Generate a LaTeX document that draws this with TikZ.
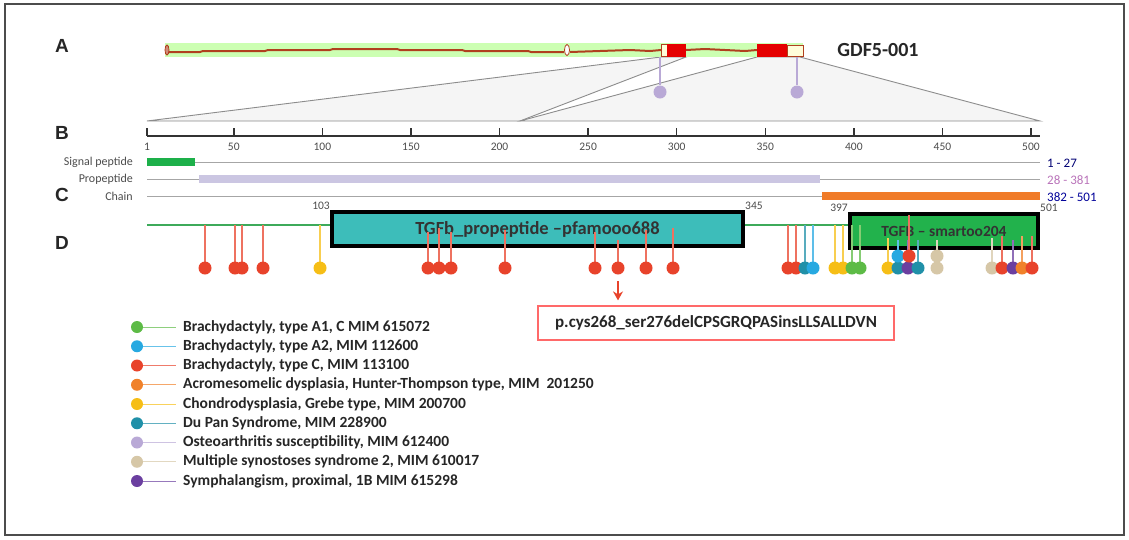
\documentclass[tikz,border=0pt]{standalone}
\usepackage{fontspec}
\setmainfont{Carlito}
\newfontfamily\panelfont{Liberation Sans}
\usetikzlibrary{arrows.meta,positioning}

\definecolor{brachyAone}{HTML}{5DBB46}
\definecolor{brachyAtwo}{HTML}{27A9E1}
\definecolor{brachyC}{HTML}{E8432B}
\definecolor{acromeso}{HTML}{F0812A}
\definecolor{chondro}{HTML}{F6BE16}
\definecolor{dupan}{HTML}{2090A8}
\definecolor{osteo}{HTML}{B9A9D6}
\definecolor{synost}{HTML}{D6C7A7}
\definecolor{symph}{HTML}{6B3FA0}
\definecolor{backbone}{HTML}{3DAA5A}
\definecolor{sigcol}{HTML}{1DB04A}
\definecolor{procol}{HTML}{CBC6E2}
\definecolor{chaincol}{HTML}{F07B28}
\definecolor{pfamcol}{HTML}{3DBDBA}
\definecolor{smartcol}{HTML}{22B24C}
\definecolor{intron}{HTML}{B0401E}

\begin{document}
\begin{tikzpicture}[x=1pt, y=-1pt,
  panel/.style={font=\panelfont\bfseries\fontsize{19}{19}\selectfont, text=black!85},
  rowlabel/.style={anchor=east, inner sep=0pt, font=\fontsize{12}{12}\selectfont, text=black!70},
  spanlabel/.style={anchor=west, inner sep=0pt, font=\fontsize{13}{13}\selectfont},
  ticklabel/.style={inner sep=0pt, font=\fontsize{11.5}{11.5}\selectfont, text=black!70},
  poslabel/.style={inner sep=0pt, font=\fontsize{11.5}{11.5}\selectfont, text=black!70},
  track/.style={black!35, line width=1pt},
  dot/.style={circle, inner sep=0pt, minimum size=13pt},
  stem/.style={line width=1.2pt},
  domainbox/.style={draw=black, line width=4pt, inner sep=0pt, text=black!80},
  legendtext/.style={anchor=west, inner xsep=7pt, inner ysep=0pt, font=\bfseries\fontsize{15.5}{16}\selectfont, text=black!85},
  proj/.style={fill=black!4, draw=black!45, line width=0.9pt},
  utr/.style={fill=yellow!15, draw=intron, line width=0.8pt}
]
\useasboundingbox (0,0) rectangle (1129,539);
\draw[black!70, line width=1.5pt] (5,4) rectangle (1124,535);

% panel A: transcript
\filldraw[proj] (661,57) -- (686,57) -- (520,121) -- (147,121) -- cycle;
\filldraw[proj] (757,57) -- (800,57) -- (1040,121) -- (520,121) -- cycle;
\fill[green!55!lime!30] (165,43) rectangle (803,57);
\draw[intron, line width=2pt] (167,52) -- (200,52) -- (203,51) -- (265,51) -- (268,50) -- (330,50) -- (333,49) -- (397,49)
  -- (400,50) -- (462,50) -- (465,51) -- (528,51) -- (531,52) -- (564,52);
\draw[intron, line width=2pt] (570,52) -- (600,51) -- (630,50) -- (650,51) -- (661,50);
\draw[intron, line width=2pt] (686,50) -- (705,49) -- (725,50) -- (745,51) -- (757,50);
\draw[utr, fill=intron!60] (167,50) ellipse (2 and 5);
\draw[utr, fill=white] (567,50) ellipse (2.5 and 5.5);
\filldraw[utr] (661,44) rectangle (667,56);
\fill[red!90!black] (667,44) rectangle (686,57);
\fill[red!90!black] (757,44) rectangle (787,57);
\filldraw[utr] (787,45) rectangle (803,56);
\node[font=\bfseries\fontsize{20}{20}\selectfont, text=black!85] (gdf) at (878,50) {GDF5-001};
\foreach \lx [count=\i] in {660,797} {
  \coordinate (a\i) at (\lx,57);
  \node[dot, fill=osteo] (ad\i) at (\lx,92) {};
  \draw[stem, osteo] (a\i) -- (ad\i);
}

\node[panel] (pA) at (62,46) {A};
\node[panel] (pB) at (62,133) {B};
\node[panel] (pC) at (62,195) {C};
\node[panel] (pD) at (62,243) {D};

% panel B: ruler
\draw[black!80, line width=1.5pt] (147,136) -- (1040,136);
\foreach \n in {1,50,100,...,500} {
  \draw[black!80, line width=1.5pt] ({147+(\n-1)*1.7715},128) -- ({147+(\n-1)*1.7715},136);
  \node[ticklabel] (t\n) at ({147+(\n-1)*1.7715},147) {\n};
}

% panel C: features
\draw[track] (147,162) -- (1040,162);
\fill[sigcol] (147,158) rectangle (195,166);
\draw[track] (147,179) -- (1040,179);
\fill[procol] (199,175) rectangle (820,183);
\draw[track] (147,196) -- (1040,196);
\fill[chaincol] (822,192) rectangle (1040,200);
\node[rowlabel] (sig) at (133,162) {Signal peptide};
\node[rowlabel] (pro) at (133,179) {Propeptide};
\node[rowlabel] (chn) at (133,196) {Chain};
\node[spanlabel, text=blue!45!black] (r1) at (1047,163) {1 - 27};
\node[spanlabel, text=violet!55] (r2) at (1047,180) {28 - 381};
\node[spanlabel, text=blue!60!black] (r3) at (1047,197) {382 - 501};

% panel D: domains and mutations
\draw[backbone, line width=2pt] (147,225) -- (1040,225);
\node[domainbox, fill=pfamcol, minimum width=411pt, minimum height=34pt, font=\bfseries\fontsize{18.5}{18.5}\selectfont] (pfam) at (537.5,229) {TGFb\_propeptide –pfamooo688};
\node[domainbox, fill=smartcol, minimum width=188pt, minimum height=34pt, font=\bfseries\fontsize{15.5}{15.5}\selectfont] (smart) at (944,231) {TGFB – smartoo204};
\node[poslabel, anchor=south east] (p103) at (pfam.north west) {103};
\node[poslabel, anchor=south west] (p345) at (pfam.north east) {345};
\node[poslabel, anchor=south east] (p397) at (smart.north west) {397};
\node[poslabel, anchor=south west] (p501) at (smart.north east) {501};

\foreach \lx/\lc/\ltop/\ly [count=\i] in {
  205/brachyC/225/268, 235/brachyC/225/268, 242/brachyC/225/268, 263/brachyC/225/268, 320/chondro/225/268,
  428/brachyC/232/268, 439/brachyC/228/268, 451/brachyC/232/268, 505/brachyC/230/268,
  595/brachyC/232/268, 618/brachyC/240/268, 646/brachyC/230/268, 673/brachyC/228/268,
  788/brachyC/225/268, 796/brachyC/225/268, 805/dupan/225/268, 813/brachyAtwo/225/268,
  835/chondro/225/268, 843/chondro/225/268, 852/brachyAone/225/268, 860/brachyAone/225/268,
  888/chondro/238/268, 898/dupan/240/268, 908/symph/240/268, 918/dupan/240/268,
  898/brachyAtwo/240/256, 909/brachyC/215/256,
  937/synost/240/268, 937/synost/240/256,
  992/synost/238/268, 1002/brachyC/236/268, 1013/symph/240/268, 1022/acromeso/236/268, 1032/brachyC/236/268} {
  \coordinate (s\i) at (\lx,\ltop);
  \draw[stem, \lc!75!white] (s\i) -- (\lx,\ly);
  \node[dot, fill=\lc] (m\i) at (\lx,\ly) {};
}

% mutation call-out
\node[draw=red!45!pink, line width=1.2pt, minimum width=356pt, minimum height=34pt, inner sep=0pt,
  font=\bfseries\fontsize{17}{17}\selectfont, text=black!85] (mut) at (716,323) {p.cys268\_ser276delCPSGRQPASinsLLSALLDVN};
\coordinate (mtop) at (618,281);
\draw[-{Stealth[length=9pt, width=10pt]}, brachyC, line width=1.6pt, shorten >=5pt] (mtop) -- (mtop |- mut.north);

% legend
\foreach \lc/\txt [count=\i] in {
  brachyAone/{Brachydactyly, type A1, C MIM 615072},
  brachyAtwo/{Brachydactyly, type A2, MIM 112600},
  brachyC/{Brachydactyly, type C, MIM 113100},
  acromeso/{Acromesomelic dysplasia, Hunter-Thompson type, MIM\ \ 201250},
  chondro/{Chondrodysplasia, Grebe type, MIM 200700},
  dupan/{Du Pan Syndrome, MIM 228900},
  osteo/{Osteoarthritis susceptibility, MIM 612400},
  synost/{Multiple synostoses syndrome 2, MIM 610017},
  symph/{Symphalangism, proximal, 1B MIM 615298}} {
  \node[dot, fill=\lc, minimum size=12pt] (l\i) at (137,{327+19.25*(\i-1)}) {};
  \node[legendtext] (lt\i) at (176,{327+19.25*(\i-1)}) {\txt};
  \draw[\lc!70!white, line width=1pt] (l\i) -- (lt\i.west);
}
\end{tikzpicture}
\end{document}
